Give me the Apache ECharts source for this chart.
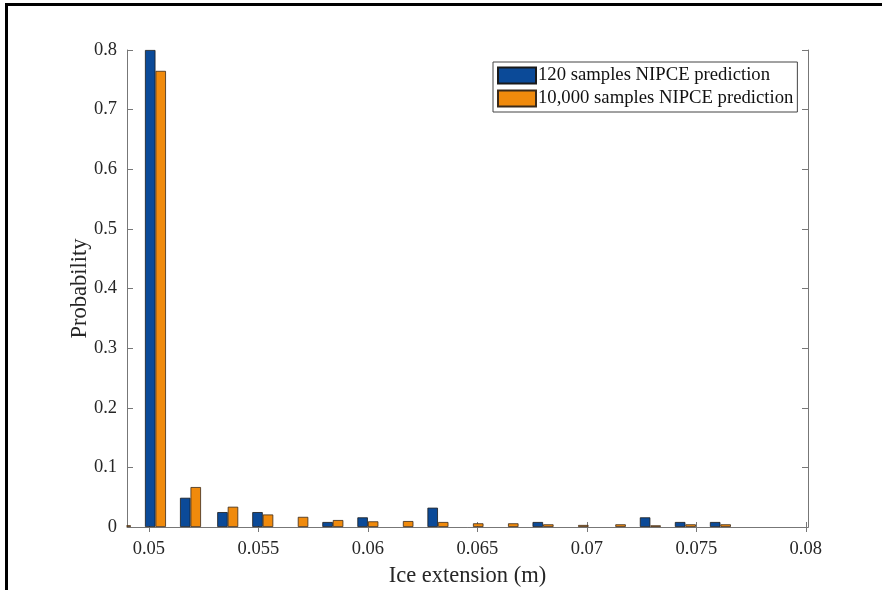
<!DOCTYPE html>
<html>
<head>
<meta charset="utf-8">
<script src="https://cdn.jsdelivr.net/npm/echarts@6/dist/echarts.min.js"></script>
<style>
html,body{margin:0;padding:0;background:#fff;}
#chart{width:882px;height:590px;}
</style>
</head>
<body>
<div id="chart"></div>
<script>
// Data
const binCenters = [0.0487, 0.0503, 0.0519, 0.0536, 0.0552, 0.0568, 0.0584, 0.0600, 0.0616, 0.0632, 0.0648, 0.0664, 0.0680, 0.0696, 0.0713, 0.0729, 0.0745, 0.0761];
const samples120 = [0, 0.80, 0.049, 0.025, 0.025, 0, 0.0084, 0.0162, 0, 0.0324, 0, 0, 0.0084, 0, 0, 0.0162, 0.0084, 0.0084];
const samples10000 = [0.003, 0.765, 0.067, 0.034, 0.021, 0.017, 0.0117, 0.0095, 0.010, 0.0084, 0.0062, 0.0062, 0.0045, 0.0034, 0.0045, 0.0028, 0.0045, 0.0045];
const seriesNames = ['120 samples NIPCE prediction', '10,000 samples NIPCE prediction'];
const xTickValues = [0.05, 0.055, 0.06, 0.065, 0.07, 0.075, 0.08];
const xTickLabels = ['0.05', '0.055', '0.06', '0.065', '0.07', '0.075', '0.08'];
const yTickLabels = ['0', '0.1', '0.2', '0.3', '0.4', '0.5', '0.6', '0.7', '0.8'];
const xAxisName = 'Ice extension (m)';
const yAxisName = 'Probability';

const FONT = '"Liberation Serif", "Times New Roman", serif';
const AXC = '#777777';
const TXT = '#262626';

function xLabel(v) {
  for (let i = 0; i < xTickValues.length; i++) {
    if (Math.abs(v - xTickValues[i]) < 1e-9) return xTickLabels[i];
  }
  return '';
}
function yLabel(v) {
  const i = Math.round(v * 10);
  return yTickLabels[i] !== undefined ? yTickLabels[i] : '';
}
function toData(vals) {
  return binCenters.map((x, i) => [x, vals[i] === 0 ? '-' : vals[i]]);
}

const GRID = {left: 127, top: 50, width: 681, height: 477};

const chart = echarts.init(document.getElementById('chart'), null, {renderer: 'canvas'});
const option = {
  backgroundColor: '#fff',
  animation: false,
  textStyle: {fontFamily: FONT},
  grid: Object.assign({containLabel: false, outerBoundsMode: 'none'}, GRID),
  legend: {
    orient: 'vertical',
    left: 493, top: 62,
    padding: [4, 4, 4, 4],
    itemGap: 4,
    itemWidth: 38, itemHeight: 16,
    borderColor: '#444', borderWidth: 1,
    backgroundColor: '#fff',
    icon: 'rect',
    textStyle: {fontFamily: FONT, fontSize: 18.7, color: '#111', padding: [0, 0, 0, -3]},
    data: seriesNames
  },
  xAxis: [{
    type: 'value', min: 0.049, max: 0.0801,
    name: xAxisName, nameLocation: 'middle', nameGap: 38, nameMoveOverlap: false,
    nameTextStyle: {fontFamily: FONT, fontSize: 22.5, color: TXT},
    axisLine: {show: true, lineStyle: {color: AXC, width: 1}},
    axisTick: {show: true, inside: true, length: 5, lineStyle: {color: AXC}, customValues: xTickValues},
    axisLabel: {show: true, margin: 13, fontFamily: FONT, fontSize: 18.5, color: TXT, customValues: xTickValues, formatter: xLabel},
    splitLine: {show: false}
  }, {
    type: 'value', min: 0.049, max: 0.0801, position: 'top',
    axisLine: {show: true, lineStyle: {color: AXC, width: 1}},
    axisTick: {show: true, inside: true, length: 5, lineStyle: {color: AXC}, customValues: xTickValues},
    axisLabel: {show: false},
    splitLine: {show: false}
  }],
  yAxis: [{
    type: 'value', min: 0, max: 0.8, interval: 0.1,
    name: yAxisName, nameLocation: 'middle', nameGap: 35, nameRotate: 90, nameMoveOverlap: false,
    nameTextStyle: {fontFamily: FONT, fontSize: 22.5, color: TXT},
    axisLine: {show: true, lineStyle: {color: AXC, width: 1}},
    axisTick: {show: true, inside: true, length: 6, lineStyle: {color: AXC}},
    axisLabel: {show: true, margin: 10, fontFamily: FONT, fontSize: 18.5, color: TXT, formatter: yLabel},
    splitLine: {show: false}
  }, {
    type: 'value', min: 0, max: 0.8, interval: 0.1, position: 'right',
    axisLine: {show: true, lineStyle: {color: AXC, width: 1}},
    axisTick: {show: true, inside: true, length: 6, lineStyle: {color: AXC}},
    axisLabel: {show: false},
    splitLine: {show: false}
  }],
  series: [{
    name: seriesNames[0], type: 'bar', xAxisIndex: 0, yAxisIndex: 0,
    barWidth: 10.5, barGap: '0%',
    clip: true,
    itemStyle: {color: '#0b4a98', borderColor: '#1a1a1a', borderWidth: 0.8},
    data: toData(samples120)
  }, {
    name: seriesNames[1], type: 'bar', xAxisIndex: 0, yAxisIndex: 0,
    barWidth: 10.5, barGap: '0%',
    clip: true,
    itemStyle: {color: '#f08a0c', borderColor: '#3a2a1a', borderWidth: 0.8},
    data: toData(samples10000)
  }],
  graphic: [
    // mask: hide the part of edge bars that falls left of the plot box (MATLAB clips at axes)
    {type: 'rect', z: 5, shape: {x: 119.5, y: 519, width: GRID.left - 119.5 - 0.5, height: 9.5}, style: {fill: '#fff'}, silent: true},
    {type: 'rect', z: 5, shape: {x: 5, y: 3, width: 877, height: 3}, style: {fill: '#000'}, silent: true},
    {type: 'rect', z: 5, shape: {x: 5, y: 3, width: 3, height: 587}, style: {fill: '#000'}, silent: true}
  ]
};
chart.setOption(option);
</script>
</body>
</html>
